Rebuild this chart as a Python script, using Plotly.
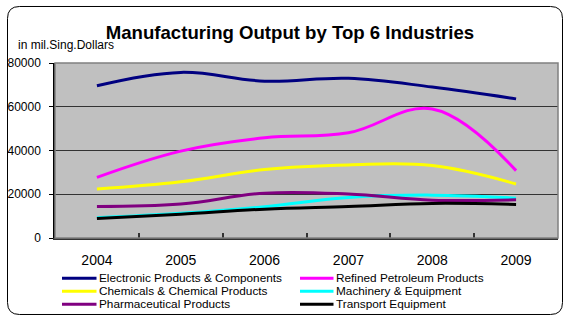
import plotly.graph_objects as go

years = ["2004", "2005", "2006", "2007", "2008", "2009"]
electronic = [69600, 75700, 71700, 73000, 69000, 63600]
refined = [27700, 39700, 45800, 48100, 59000, 30800]
chemicals = [22400, 25700, 31300, 33400, 33100, 24700]
machinery = [9300, 11300, 14300, 18500, 19600, 18200]
pharma = [14400, 15500, 20500, 20100, 17300, 17500]
transport = [8900, 10900, 13200, 14400, 15800, 15300]

series = [
    ("Electronic Products & Components", electronic, "#000080"),
    ("Refined Petroleum Products", refined, "#FF00FF"),
    ("Chemicals & Chemical Products", chemicals, "#FFFF00"),
    ("Machinery & Equipment", machinery, "#00FFFF"),
    ("Pharmaceutical Products", pharma, "#800080"),
    ("Transport Equipment", transport, "#000000"),
]

W, H = 564, 316
L, R, T, B = 55, 6, 63, 78
PW, PH = W - L - R, H - T - B
FONT = "Arial, Liberation Sans, sans-serif"


def X(px):
    return (px - L) / PW


def Y(py):
    return (H - B - py) / PH


fig = go.Figure()
for name, vals, col in series:
    fig.add_trace(go.Scatter(x=years, y=vals, name=name, mode="lines",
                             line=dict(color=col, width=3, shape="spline", smoothing=1.1),
                             showlegend=False))

shapes = []
annotations = []

# plot-area border (gray)
shapes.append(dict(type="rect", xref="paper", yref="paper", x0=0, x1=1, y0=0, y1=1,
                   line=dict(color="#808080", width=1.5), layer="above"))

# rounded outer border
x0, x1, y0, y1, r = 7.5, 562.5, 6.5, 314.5, 12
pts = lambda a, b: f"{X(a):.5f},{Y(b):.5f}"
path = (f"M {pts(x0 + r, y0)} L {pts(x1 - r, y0)} Q {pts(x1, y0)} {pts(x1, y0 + r)} "
        f"L {pts(x1, y1 - r)} Q {pts(x1, y1)} {pts(x1 - r, y1)} "
        f"L {pts(x0 + r, y1)} Q {pts(x0, y1)} {pts(x0, y1 - r)} "
        f"L {pts(x0, y0 + r)} Q {pts(x0, y0)} {pts(x0 + r, y0)} Z")
shapes.append(dict(type="path", xref="paper", yref="paper", path=path,
                   line=dict(color="black", width=1)))

# manual legend (3 rows x 2 cols)
rows_y = [278.3, 291.3, 304.3]
cols = [(62, 96.5, 97.5), (300, 333.5, 335)]
for i, (name, vals, col) in enumerate(series):
    rr, cc = divmod(i, 2)
    lx0, lx1, tx = cols[cc]
    yy = rows_y[rr]
    shapes.append(dict(type="line", xref="paper", yref="paper",
                       x0=X(lx0), x1=X(lx1), y0=Y(yy), y1=Y(yy),
                       line=dict(color=col, width=3)))
    annotations.append(dict(text=name, xref="paper", yref="paper", x=X(tx), y=Y(yy),
                            xanchor="left", yanchor="middle", showarrow=False,
                            font=dict(family=FONT, size=11.8, color="black"),
                            borderpad=0))

# y-axis unit label
annotations.append(dict(text="in mil.Sing.Dollars", xref="paper", yref="paper",
                        x=X(17), y=Y(45), xanchor="left", yanchor="middle",
                        showarrow=False, borderpad=0,
                        font=dict(family=FONT, size=12, color="black")))

fig.update_layout(
    width=W, height=H,
    margin=dict(l=L, r=R, t=T, b=B),
    paper_bgcolor="white",
    plot_bgcolor="#C0C0C0",
    title=dict(text="<b>Manufacturing Output by Top 6 Industries</b>",
               x=290 / W, xanchor="center", xref="container",
               y=1 - 32 / H, yanchor="middle", yref="container",
               font=dict(family=FONT, size=18.6, color="black")),
    xaxis=dict(type="category", range=[-0.5, 5.5], tickson="boundaries",
               ticks="inside", ticklen=5, tickcolor="#333333", tickwidth=1.5,
               showgrid=False, showline=True, linecolor="#333333", linewidth=1.5,
               tickfont=dict(family=FONT, size=14, color="black"),
               ticklabelstandoff=8, fixedrange=True),
    yaxis=dict(range=[0, 80000], dtick=20000, tickformat="d",
               ticks="outside", ticklen=4, tickcolor="black",
               showgrid=True, gridcolor="#333333", gridwidth=1,
               zeroline=False, showline=True, linecolor="black", linewidth=1.5,
               tickfont=dict(family=FONT, size=12, color="black"),
               ticklabelstandoff=6, fixedrange=True),
    shapes=shapes,
    annotations=annotations,
    showlegend=False,
)

fig.write_html("out.html", config={"displayModeBar": False},
               post_script="document.body.style.margin='0';document.body.style.padding='0';")
